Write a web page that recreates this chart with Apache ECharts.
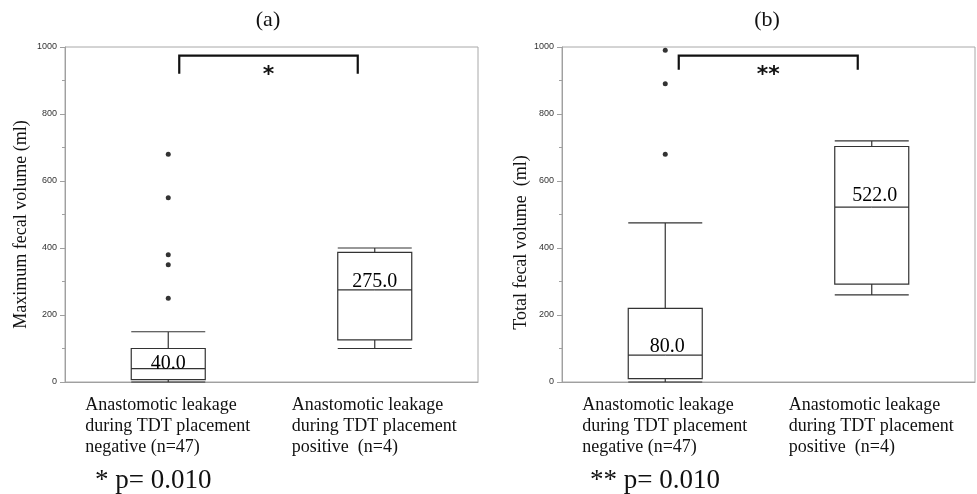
<!DOCTYPE html>
<html>
<head>
<meta charset="utf-8">
<script src="https://cdn.jsdelivr.net/npm/echarts@6/dist/echarts.min.js"></script>
<style>html,body{margin:0;padding:0;background:#fff}#c{width:977px;height:494px}</style>
</head>
<body>
<div id="c"></div>
<script>
// ---- data ----
const categories = [
  'Anastomotic leakage\nduring TDT placement\nnegative (n=47)',
  'Anastomotic leakage\nduring TDT placement\npositive  (n=4)'
];
const panelTitles = ['(a)', '(b)'];
const yNames = ['Maximum fecal volume (ml)', 'Total fecal volume  (ml)'];
const yTicks = [0, 200, 400, 600, 800, 1000];
// [min, Q1, median, Q3, max]
const boxA = [[0, 7, 40, 100, 150], [100, 126, 275, 387, 400]];
const boxB = [[0, 10, 80, 220, 475], [260, 292, 522, 703, 720]];
const outliersA = [680, 550, 380, 350, 250];
const outliersB = [990, 890, 680];
const mediansA = [40.0, 275.0];
const mediansB = [80.0, 522.0];
const bracketA = [920, 974]; // [end, top]
const bracketB = [932, 974];
const starsA = '*';
const starsB = '**';
const pTexts = ['* p= 0.010', '** p= 0.010'];

const SERIF = '"Liberation Serif", "Times New Roman", serif';
const SANS = '"Liberation Sans", Arial, sans-serif';

const panels = [
  {box: boxA, out: outliersA, med: mediansA, br: bracketA, star: starsA, inset: [11, 17],
   medOff: [[0, 5.5], [0, 2]], nameGap: 35, namePad: [0, 20, 0, 0]},
  {box: boxB, out: outliersB, med: mediansB, br: bracketB, star: starsB, inset: [13.5, 14],
   medOff: [[2, 2], [3, -1]], nameGap: 31.5, namePad: [0, 56, 0, 0]}
];

const grids = [
  {left: 65, top: 47, width: 413, height: 335, show: true, borderColor: '#a8a8a8', borderWidth: 1},
  {left: 562, top: 47, width: 413, height: 335, show: true, borderColor: '#a8a8a8', borderWidth: 1}
];

const xAxes = [0, 1].map(i => ({
  type: 'category', gridIndex: i, data: categories, boundaryGap: true,
  axisLine: {lineStyle: {color: '#a0a0a0', width: 1}},
  axisTick: {show: false},
  axisLabel: {
    interval: 0, margin: 13,
    formatter: v => v.split('\n').map(s => '{a|' + s + '}').join('\n'),
    rich: {a: {width: 166, align: 'left', fontSize: 18, fontFamily: SERIF, color: '#111', lineHeight: 21}}
  }
}));

const yAxes = [0, 1].map(i => ({
  type: 'value', gridIndex: i, min: yTicks[0], max: yTicks[yTicks.length - 1], interval: yTicks[1] - yTicks[0],
  name: yNames[i], nameLocation: 'middle', nameGap: panels[i].nameGap,
  nameTextStyle: {fontFamily: SERIF, fontSize: 18, color: '#111', padding: panels[i].namePad},
  axisLine: {show: true, lineStyle: {color: '#a0a0a0', width: 1}},
  axisTick: {show: true, length: 5, lineStyle: {color: '#a0a0a0'}},
  minorTick: {show: true, splitNumber: 2, length: 3, lineStyle: {color: '#a0a0a0'}},
  splitLine: {show: false},
  axisLabel: {fontFamily: SANS, fontSize: 9, color: '#333', margin: 8, formatter: v => String(v)}
}));

const series = [];
panels.forEach((p, i) => {
  series.push({
    type: 'boxplot', xAxisIndex: i, yAxisIndex: i, data: p.box, boxWidth: [74, 74],
    itemStyle: {color: '#fff', borderColor: '#333', borderWidth: 1.2},
    emphasis: {disabled: true}, silent: true
  });
  series.push({
    type: 'scatter', xAxisIndex: i, yAxisIndex: i, symbolSize: 5,
    itemStyle: {color: '#000'}, silent: true,
    data: p.out.map(v => [0, v])
  });
  series.push({
    type: 'scatter', xAxisIndex: i, yAxisIndex: i, symbolSize: 0.5, silent: true, z: 5,
    itemStyle: {color: '#fff', opacity: 1},
    data: p.med.map((v, k) => ({
      value: [k, v],
      label: {show: true, position: 'top', distance: 0, offset: p.medOff[k],
        formatter: d => d.value[1].toFixed(1), fontFamily: SERIF, fontSize: 20,
        color: '#000', opacity: 1, textBorderWidth: 0}
    }))
  });
  series.push({
    type: 'custom', xAxisIndex: i, yAxisIndex: i, silent: true,
    data: [[0, p.br[0], p.br[1]]], encode: {x: 0, y: [1, 2]},
    renderItem: (params, api) => {
      const t0 = api.coord([0, api.value(2)]);
      const t1 = api.coord([1, api.value(2)]);
      const e0 = api.coord([0, api.value(1)]);
      const xl = t0[0] + p.inset[0], xr = t1[0] - p.inset[1];
      return {type: 'group', children: [
        {type: 'polyline', shape: {points: [[xl, e0[1]], [xl, t0[1]], [xr, t0[1]], [xr, e0[1]]]},
         style: {stroke: '#111', lineWidth: 2.2, fill: null}},
        {type: 'text', x: (xl + xr) / 2, y: t0[1] + 20,
         style: {text: p.star, align: 'center', verticalAlign: 'middle', font: 'bold 22px "DejaVu Sans", sans-serif', fill: '#111'}}
      ]};
    }
  });
});

const graphic = [
  {type: 'text', x: 268, y: 20, style: {text: panelTitles[0], align: 'center', verticalAlign: 'middle', font: '22px ' + SERIF, fill: '#111'}},
  {type: 'text', x: 767, y: 20, style: {text: panelTitles[1], align: 'center', verticalAlign: 'middle', font: '22px ' + SERIF, fill: '#111'}},
  {type: 'text', x: 95, y: 481, style: {text: pTexts[0], align: 'left', verticalAlign: 'middle', font: '27px ' + SERIF, fill: '#111'}},
  {type: 'text', x: 590, y: 481, style: {text: pTexts[1], align: 'left', verticalAlign: 'middle', font: '27px ' + SERIF, fill: '#111'}}
];

const chart = echarts.init(document.getElementById('c'), null, {renderer: 'canvas'});
chart.setOption({
  animation: false, backgroundColor: '#fff',
  grid: grids, xAxis: xAxes, yAxis: yAxes, series: series, graphic: graphic
});
</script>
</body>
</html>
